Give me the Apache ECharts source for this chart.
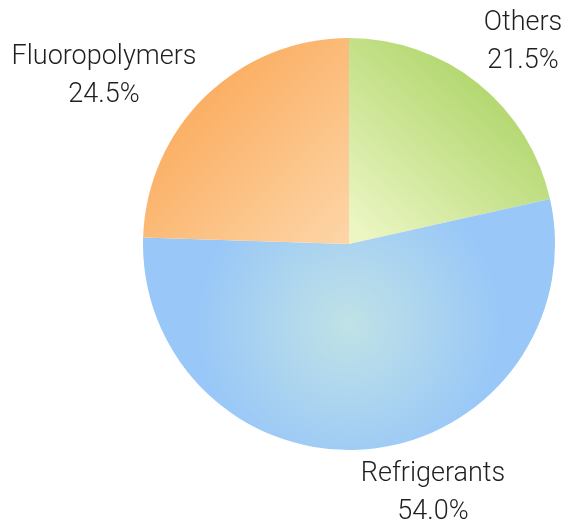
<!DOCTYPE html>
<html>
<head>
<meta charset="utf-8">
<script src="https://cdn.jsdelivr.net/npm/echarts@6/dist/echarts.min.js"></script>
<style>
html,body{margin:0;padding:0;background:#fff;}
#chart{width:573px;height:531px;}
</style>
</head>
<body>
<div id="chart"></div>
<script>
const categories = ['Others', 'Refrigerants', 'Fluoropolymers'];
const values = [21.5, 54.0, 24.5];

const fills = {
  'Others': {type:'linear', x:1, y:0, x2:0.1, y2:1, colorStops:[{offset:0,color:'#9ccb4e'},{offset:1,color:'#ecf6c4'}]},
  'Refrigerants': {type:'radial', x:0.5, y:0.5, r:0.62, colorStops:[{offset:0,color:'#c0e2e6'},{offset:1,color:'#98c7f8'}]},
  'Fluoropolymers': {type:'linear', x:0, y:0, x2:1, y2:1, colorStops:[{offset:0,color:'#fa9f48'},{offset:1,color:'#fdd6a8'}]}
};
const labelPos = {
  'Others': [523, 42],
  'Refrigerants': [433, 493],
  'Fluoropolymers': [104, 76]
};

const chart = echarts.init(document.getElementById('chart'));
chart.setOption({
  animation: false,
  series: [{
    type: 'pie',
    center: [349, 244],
    radius: 206,
    startAngle: 90,
    clockwise: true,
    avoidLabelOverlap: false,
    data: categories.map((c, i) => ({name: c, value: values[i], itemStyle: {color: fills[c]}})),
    itemStyle: {borderWidth: 0},
    label: {
      show: true,
      position: 'outside',
      formatter: p => p.name + '\n' + p.value.toFixed(1) + '%',
      fontFamily: 'Roboto, Liberation Sans, Arial, sans-serif',
      fontWeight: 300,
      fontSize: 27,
      lineHeight: 38,
      color: '#1f1f1f',
      align: 'center'
    },
    labelLine: {show: false},
    labelLayout: function (params) {
      const name = categories[params.dataIndex];
      const pos = labelPos[name];
      return {x: pos[0], y: pos[1], align: 'center', verticalAlign: 'middle'};
    }
  }]
});
</script>
</body>
</html>
